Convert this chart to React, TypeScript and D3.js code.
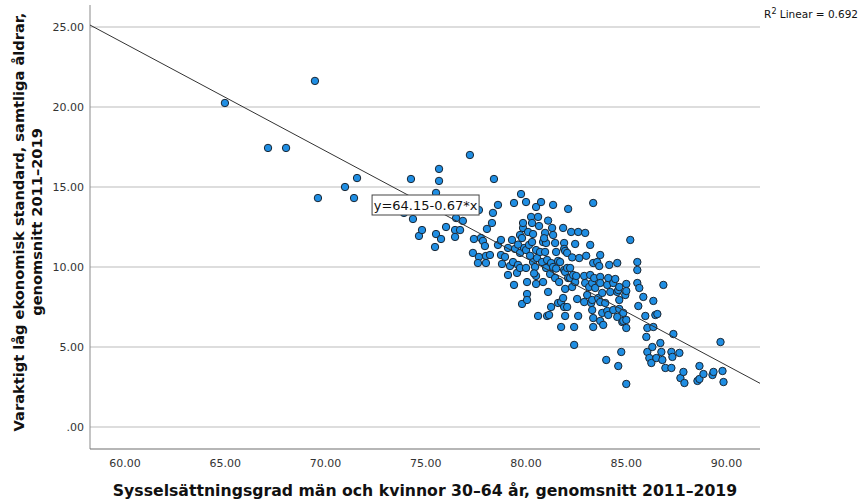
import React from "react";
import * as d3 from "d3";

// Employment rate (x) vs persistent low economic standard (y), one pair per municipality
const municipalities: [number, number][] = [
  [64.98, 20.25], [67.13, 17.44], [68.03, 17.44], [69.47, 21.63], [69.62, 14.31], [70.97, 15.0],
  [71.57, 15.56], [71.42, 14.31], [73.91, 13.38], [74.26, 15.5], [74.36, 13.0], [74.66, 11.94],
  [74.81, 12.31], [75.46, 11.25], [75.51, 14.63], [75.51, 12.06], [75.66, 16.13], [75.66, 15.38],
  [75.76, 11.75], [76.01, 12.5], [76.46, 12.31], [76.46, 11.88], [76.51, 13.06], [76.71, 12.31],
  [76.85, 12.88], [77.2, 17.0], [77.35, 10.88], [77.4, 11.75], [77.65, 13.56], [77.65, 10.63],
  [77.6, 10.25], [77.75, 11.81], [77.85, 11.63], [77.95, 11.31], [78.0, 10.69], [78.0, 10.25],
  [78.05, 12.38], [78.2, 10.75], [78.3, 12.75], [78.35, 13.38], [78.4, 15.5], [78.6, 13.88],
  [78.6, 11.38], [78.75, 11.69], [78.75, 10.75], [78.8, 10.19],
  [78.95, 10.63], [79.1, 11.19], [79.1, 9.5], [79.2, 10.06], [79.3, 11.69], [79.35, 10.31],
  [79.4, 14.0], [79.4, 8.88], [79.45, 11.13], [79.55, 9.63], [79.6, 10.13], [79.7, 10.88],
  [79.7, 12.0], [79.7, 9.94], [79.75, 14.56], [79.85, 12.44], [79.85, 12.75], [79.8, 11.81],
  [79.8, 7.69], [79.9, 11.19], [80.0, 14.06], [80.0, 11.06], [80.0, 9.94], [80.05, 9.06],
  [80.05, 8.31], [80.05, 7.94], [80.1, 12.19], [80.15, 11.38], [80.25, 13.13], [80.3, 12.75],
  [80.3, 11.56], [80.35, 12.06], [80.35, 10.31],
  [80.45, 10.0], [80.5, 13.75], [80.5, 9.44], [80.5, 8.94], [80.5, 11.06], [80.55, 10.56],
  [80.6, 13.13], [80.6, 6.94], [80.65, 12.56], [80.75, 14.06], [80.7, 10.94], [80.85, 11.56],
  [80.8, 10.31], [80.85, 9.06], [80.95, 12.13], [80.95, 10.94], [81.0, 11.5], [81.05, 10.44],
  [81.0, 9.94], [81.1, 8.44], [81.05, 6.94], [81.15, 7.0], [81.2, 9.56], [81.25, 10.25],
  [81.25, 7.5], [81.3, 12.44], [81.35, 12.0], [81.35, 13.88], [81.35, 10.0], [81.45, 11.5],
  [81.45, 9.31], [81.5, 10.94], [81.6, 10.38], [81.6, 7.75], [81.65, 9.06], [81.7, 10.31],
  [81.75, 7.81], [81.75, 6.25], [81.85, 12.44], [81.85, 8.06], [81.9, 11.5], [81.9, 11.13],
  [81.9, 9.81], [81.9, 7.5], [81.95, 11.0], [81.95, 9.69], [81.95, 8.63], [81.95, 6.94],
  [82.05, 10.88], [82.05, 9.94], [82.05, 7.5], [82.1, 13.63], [82.1, 9.31], [82.2, 9.94],
  [82.2, 9.31], [82.25, 12.19], [82.3, 8.75], [82.35, 9.5], [82.4, 6.25], [82.4, 5.13],
  [82.45, 11.44], [82.45, 9.06], [82.5, 9.44], [82.6, 12.19], [82.55, 8.0], [82.95, 12.13],
  [82.6, 6.94], [82.65, 10.56],
  [82.9, 9.44], [82.9, 7.81], [82.95, 9.0], [83.05, 8.25], [83.15, 8.75], [83.2, 11.38],
  [83.2, 9.5], [83.25, 7.75], [83.3, 9.0], [83.3, 7.94], [83.3, 7.31], [83.35, 14.0],
  [83.35, 10.25], [83.35, 6.81], [83.35, 6.25], [83.4, 9.31], [83.45, 8.69], [83.55, 10.31],
  [83.6, 8.06], [83.65, 10.06], [83.7, 10.75], [83.7, 9.38], [83.7, 9.0], [83.7, 7.81],
  [83.7, 6.63], [83.8, 8.38], [83.8, 7.13],
  [83.85, 6.38], [83.95, 7.75], [84.0, 4.19], [84.05, 8.88], [84.05, 7.25], [84.1, 9.31],
  [84.1, 7.0], [84.15, 10.13], [84.2, 8.44], [84.35, 9.0], [84.35, 7.31], [84.45, 9.25],
  [84.55, 10.25], [84.55, 8.44], [84.55, 6.88], [84.6, 8.56], [84.6, 3.81], [84.65, 8.75],
  [84.65, 7.94], [84.65, 7.38], [84.75, 4.69], [84.8, 6.56], [84.85, 7.13], [84.85, 6.63],
  [84.95, 8.25], [85.0, 8.94], [85.0, 8.5], [85.0, 6.69], [85.0, 6.19], [85.0, 2.69],
  [85.2, 11.69], [85.55, 10.31], [85.55, 9.81], [85.55, 9.0], [85.65, 8.69], [85.6, 7.56],
  [85.85, 8.13], [85.95, 6.94], [86.0, 5.63], [86.05, 6.19], [86.05, 4.69], [86.15, 4.31],
  [86.25, 4.0], [86.3, 5.0], [86.35, 7.88], [86.35, 6.25], [86.45, 7.0], [86.55, 7.06],
  [86.5, 4.31], [86.7, 5.25], [86.75, 4.69], [86.8, 4.19], [86.85, 8.88], [86.95, 3.69],
  [87.25, 4.69], [87.25, 3.69], [87.3, 4.38], [87.35, 5.81], [87.65, 4.63], [87.7, 3.06],
  [87.85, 3.44], [87.9, 2.75], [88.55, 2.88], [88.65, 3.81], [88.65, 3.0], [88.85, 3.31],
  [89.3, 3.25], [89.35, 3.44], [89.7, 5.31], [89.8, 3.5], [89.85, 2.81],
  [80.2, 10.7], [81.5, 9.9], [80.9, 11.8], [82.3, 10.6], [79.6, 11.4], [81.1, 12.9],
  [83.0, 10.7], [80.4, 9.6],
];

const xTicks = [60, 65, 70, 75, 80, 85, 90];
const yTicks = [0, 5, 10, 15, 20, 25];
const intercept = 64.15;
const slope = -0.67;
const rSquared = 0.692;
const xTitle = "Sysselsättningsgrad män och kvinnor 30–64 år, genomsnitt 2011–2019";
const yTitleLines = ["Varaktigt låg ekonomisk standard, samtliga åldrar,", "genomsnitt 2011–2019"];
const eqLabel = "y=64.15-0.67*x";

const X_DOMAIN: [number, number] = [58.25, 91.67];
const Y_DOMAIN: [number, number] = [-1.375, 26.375];
const PLOT = { left: 90, right: 760, top: 5, bottom: 449 };

const fmt = (v: number) => (v === 0 ? ".00" : v.toFixed(2));

export default function App() {
  const x = d3.scaleLinear().domain(X_DOMAIN).range([PLOT.left, PLOT.right]);
  const y = d3.scaleLinear().domain(Y_DOMAIN).range([PLOT.bottom, PLOT.top]);
  const lineGen = d3
    .line<number>()
    .x((d) => x(d))
    .y((d) => y(intercept + slope * d));
  const font = "DejaVu Sans, Verdana, sans-serif";

  // equation label anchor (data coordinates)
  const labX = x(72.32);
  const labY = y(14.5);

  return (
    <svg
      width={862}
      height={500}
      style={{ position: "absolute", left: 0, top: 0, background: "#fff" }}
      fontFamily={font}
    >
      <rect x={0} y={0} width={862} height={500} fill="#fff" />
      <defs>
        <clipPath id="plotClip">
          <rect x={PLOT.left} y={PLOT.top} width={PLOT.right - PLOT.left} height={PLOT.bottom - PLOT.top} />
        </clipPath>
      </defs>
      {yTicks.map((t) => (
        <line key={"g" + t} x1={PLOT.left} x2={PLOT.right} y1={y(t)} y2={y(t)} stroke="#d2d2d2" strokeWidth={1.5} />
      ))}
      <line x1={PLOT.left} x2={PLOT.left} y1={PLOT.top} y2={PLOT.bottom} stroke="#8a8a8a" strokeWidth={1} />
      <line x1={PLOT.left} x2={PLOT.right} y1={PLOT.bottom} y2={PLOT.bottom} stroke="#6e6e6e" strokeWidth={1.2} />
      {yTicks.map((t) => (
        <text key={"yl" + t} x={84} y={y(t) + 4} textAnchor="end" fontSize={11} fill="#333">
          {fmt(t)}
        </text>
      ))}
      {xTicks.map((t) => (
        <text key={"xl" + t} x={x(t)} y={467} textAnchor="middle" fontSize={11} fill="#333">
          {fmt(t)}
        </text>
      ))}
      <g>
        {municipalities.map(([a, b], i) => (
          <circle key={i} cx={x(a)} cy={y(b)} r={3.7} fill="#1f8ee3" stroke="#1b2530" strokeWidth={1} />
        ))}
      </g>
      <path d={lineGen(X_DOMAIN) || ""} fill="none" stroke="#333" strokeWidth={1} clipPath="url(#plotClip)" />
      <g transform={`translate(${labX},${labY})`}>
        <rect x={0} y={0} width={107} height={20} fill="#fff" stroke="#444" strokeWidth={1} />
        <text x={53.5} y={15} textAnchor="middle" fontSize={13} fill="#111">
          {eqLabel}
        </text>
      </g>
      <text x={858} y={18} textAnchor="end" fontSize={10.5} fill="#111">
        R<tspan dy={-4} fontSize={8}>2</tspan>
        <tspan dy={4}> Linear = {rSquared.toFixed(3)}</tspan>
      </text>
      <text x={425} y={496} textAnchor="middle" fontSize={15.7} fontWeight="bold" fill="#111">
        {xTitle}
      </text>
      {yTitleLines.map((l, i) => (
        <text
          key={i}
          transform={`translate(${24 + i * 18},222) rotate(-90)`}
          textAnchor="middle"
          fontSize={14.6}
          fontWeight="bold"
          fill="#111"
        >
          {l}
        </text>
      ))}
    </svg>
  );
}
